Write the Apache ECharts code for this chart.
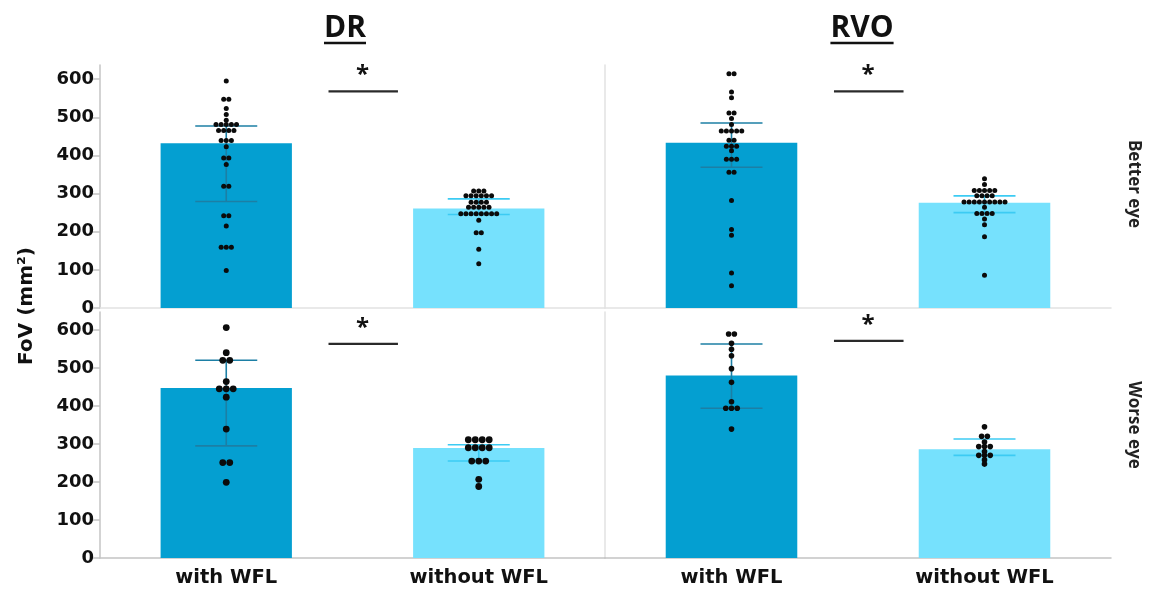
<!DOCTYPE html>
<html><head><meta charset="utf-8">
<script src="https://cdn.jsdelivr.net/npm/echarts@6/dist/echarts.min.js"></script>
<style>html,body{margin:0;padding:0;background:#fff}#c{width:1154px;height:589px}</style>
</head><body><div id="c"></div>
<script>
// ---------- data ----------
const categories = ['with WFL', 'without WFL'];
const yTicks = [0, 100, 200, 300, 400, 500, 600];
const panelTitles = ['DR', 'RVO'];
const rowTitles = ['Better eye', 'Worse eye'];

// individual patient values (dots)
const drBetterWith = [595, 547, 547, 523, 507, 492, 481, 481, 481, 481, 481, 465, 465, 465, 465, 439, 439, 439, 423, 393, 393, 376, 319, 319, 242, 242, 215, 159, 159, 159, 98];
const drBetterWithout = [307, 307, 307, 294, 294, 294, 294, 294, 294, 277, 277, 277, 277, 264, 264, 264, 264, 264, 247, 247, 247, 247, 247, 247, 247, 247, 230, 197, 197, 154, 116];
const rvoBetterWith = [614, 614, 566, 551, 511, 511, 497, 481, 464, 464, 464, 464, 464, 440, 440, 424, 424, 424, 412, 390, 390, 390, 356, 356, 282, 206, 191, 92, 58];
const rvoBetterWithout = [339, 324, 308, 308, 308, 308, 308, 294, 294, 294, 294, 278, 278, 278, 278, 278, 278, 278, 278, 278, 264, 248, 248, 248, 248, 233, 218, 187, 86];
const drWorseWith = [606, 540, 520, 520, 464, 445, 445, 445, 423, 339, 251, 251, 199];
const drWorseWithout = [311, 311, 311, 311, 290, 290, 290, 290, 255, 255, 255, 207, 188];
const rvoWorseWith = [589, 589, 565, 549, 532, 498, 462, 411, 394, 394, 394, 339];
const rvoWorseWithout = [345, 320, 320, 305, 293, 293, 293, 280, 270, 270, 270, 258, 247];

// bar heights [with, without]
const barDRBetter = [432, 261];
const barRVOBetter = [433, 276];
const barDRWorse = [447, 289];
const barRVOWorse = [480, 286];

// error bars [low, high] for [with, without]
const errDRBetter = [[279, 477], [245, 286]];
const errRVOBetter = [[369, 485], [250, 294]];
const errDRWorse = [[295, 520], [255, 298]];
const errRVOWorse = [[394, 563], [270, 313]];

// significance bar level per panel
const sigValues = [568, 568, 563, 571];

// ---------- styling / layout ----------
const DARK = '#049fd1', LIGHT = '#76e1fd';
const ERR_DARK = '#1c7fa5', ERR_LIGHT = '#3ccbf3';
const TICK_FONT = 'DejaVu Sans';

const panels = [
  {grid: {left: 100, top: 65, width: 505, height: 243}, max: 637, bars: barDRBetter, err: errDRBetter, dots: [drBetterWith, drBetterWithout], r: 2.5, sig: sigValues[0], left: true, bottom: false},
  {grid: {left: 605, top: 65, width: 506, height: 243}, max: 637, bars: barRVOBetter, err: errRVOBetter, dots: [rvoBetterWith, rvoBetterWithout], r: 2.5, sig: sigValues[1], left: false, bottom: false},
  {grid: {left: 100, top: 312, width: 505, height: 246}, max: 647, bars: barDRWorse, err: errDRWorse, dots: [drWorseWith, drWorseWithout], r: 3.4, sig: sigValues[2], left: true, bottom: true},
  {grid: {left: 605, top: 312, width: 506, height: 246}, max: 647, bars: barRVOWorse, err: errRVOWorse, dots: [rvoWorseWith, rvoWorseWithout], r: 2.8, sig: sigValues[3], left: false, bottom: true}
];

function swarm(values, cat) {
  const groups = new Map();
  values.forEach(v => { groups.set(v, (groups.get(v) || 0) + 1); });
  const out = [];
  groups.forEach((n, v) => { for (let k = 0; k < n; k++) out.push([cat, v, k, n]); });
  return out;
}

const grid = [], xAxis = [], yAxis = [], series = [];
panels.forEach((p, i) => {
  grid.push(p.grid);
  xAxis.push({
    type: 'category', gridIndex: i, data: categories,
    offset: p.bottom ? 0 : 2,
    axisLine: {show: true, lineStyle: {color: p.bottom ? '#c4c4c4' : '#e2e2e2', width: 1.5}},
    axisTick: {show: false},
    axisLabel: {show: p.bottom, color: '#111', fontFamily: TICK_FONT, fontWeight: 'bold', fontSize: 19.5, margin: 10}
  });
  yAxis.push({
    type: 'value', gridIndex: i, min: 0, max: p.max, interval: 100,
    axisLine: {show: true, lineStyle: {color: p.left ? '#c4c4c4' : '#e2e2e2', width: 1.5}},
    axisTick: {show: p.left, length: 8, lineStyle: {color: '#c4c4c4', width: 1.5}, customValues: yTicks},
    axisLabel: {show: p.left, color: '#111', fontFamily: TICK_FONT, fontWeight: 'bold', fontSize: 18, margin: 6, customValues: yTicks},
    splitLine: {show: false}
  });
  series.push({
    type: 'bar', xAxisIndex: i, yAxisIndex: i, barWidth: '52%', z: 2,
    data: p.bars.map((v, k) => ({value: v, itemStyle: {color: k === 0 ? DARK : LIGHT}})),
    silent: true
  });
  series.push({
    type: 'custom', xAxisIndex: i, yAxisIndex: i, z: 3, silent: true,
    data: p.err.map((e, k) => [k, e[0], e[1]]),
    encode: {x: 0, y: [1, 2]},
    renderItem: function (params, api) {
      const k = api.value(0);
      const lo = api.coord([k, api.value(1)]);
      const hi = api.coord([k, api.value(2)]);
      const half = 31;
      const col = k === 0 ? ERR_DARK : ERR_LIGHT;
      const st = {stroke: col, lineWidth: 1.6};
      return {type: 'group', children: [
        {type: 'line', shape: {x1: lo[0], y1: lo[1], x2: hi[0], y2: hi[1]}, style: st},
        {type: 'line', shape: {x1: lo[0] - half, y1: lo[1], x2: lo[0] + half, y2: lo[1]}, style: st},
        {type: 'line', shape: {x1: hi[0] - half, y1: hi[1], x2: hi[0] + half, y2: hi[1]}, style: st}
      ]};
    }
  });
  const dotData = swarm(p.dots[0], 0).concat(swarm(p.dots[1], 1));
  const r = p.r;
  series.push({
    type: 'custom', xAxisIndex: i, yAxisIndex: i, z: 4, silent: true,
    data: dotData, encode: {x: 0, y: 1},
    renderItem: function (params, api) {
      const pt = api.coord([api.value(0), api.value(1)]);
      const k = api.value(2), n = api.value(3);
      const sp = r * 2.05;
      return {type: 'circle', shape: {cx: pt[0] + (k - (n - 1) / 2) * sp, cy: pt[1], r: r}, style: {fill: '#0b0b0b'}};
    }
  });
  series.push({
    type: 'custom', xAxisIndex: i, yAxisIndex: i, z: 5, silent: true,
    data: [[p.sig]], encode: {y: 0},
    renderItem: function (params, api) {
      const v = api.value(0);
      const a = api.coord([0, v]), b = api.coord([1, v]);
      const x1 = a[0] + (b[0] - a[0]) * 0.405, x2 = a[0] + (b[0] - a[0]) * 0.68;
      const xm = a[0] + (b[0] - a[0]) * 0.54;
      return {type: 'group', children: [
        {type: 'line', shape: {x1: x1, y1: a[1], x2: x2, y2: a[1]}, style: {stroke: '#2a2a2a', lineWidth: 2.2}},
        {type: 'text', x: xm, y: a[1] - 4, style: {text: '*', fill: '#111', font: 'bold 24px "Open Sans"', align: 'center', verticalAlign: 'bottom'}}
      ]};
    }
  });
});

function textW(t, font) {
  const c = document.createElement('canvas').getContext('2d');
  c.font = font; return c.measureText(t).width;
}
const titleFont = 'bold 30px "Open Sans"';
const titleX = [345, 862];
const graphic = [];
panelTitles.forEach((t, k) => {
  const w = textW(t, titleFont);
  graphic.push({type: 'text', x: titleX[k], y: 28, style: {text: t, font: titleFont, fill: '#111', align: 'center', verticalAlign: 'middle'}});
  graphic.push({type: 'line', shape: {x1: titleX[k] - w / 2, y1: 43, x2: titleX[k] + w / 2, y2: 43}, style: {stroke: '#111', lineWidth: 2.4}});
});
const rowY = [184, 425];
rowTitles.forEach((t, k) => {
  graphic.push({type: 'text', x: 1134, y: rowY[k], rotation: -Math.PI / 2, style: {text: t, font: 'bold 17px "Open Sans"', fill: '#222', align: 'center', verticalAlign: 'middle'}});
});
graphic.push({type: 'text', x: 27, y: 306, rotation: Math.PI / 2, style: {text: 'FoV (mm²)', font: 'bold 20px "DejaVu Sans"', fill: '#111', align: 'center', verticalAlign: 'middle'}});

const chart = echarts.init(document.getElementById('c'), null, {renderer: 'canvas'});
chart.setOption({animation: false, backgroundColor: '#fff', grid, xAxis, yAxis, series, graphic});
</script></body></html>
